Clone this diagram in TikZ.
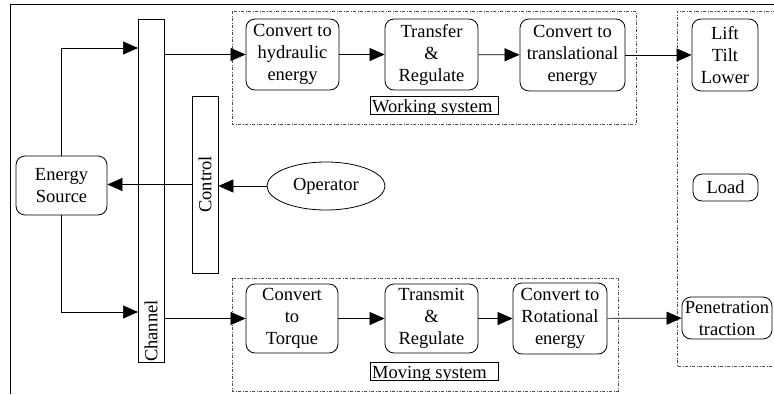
\documentclass[tikz,border=0pt]{standalone}
\usepackage{fontspec}
\setmainfont{Liberation Serif}
\usetikzlibrary{arrows.meta,shapes.geometric}

\begin{document}
\begin{tikzpicture}[x=1pt,y=-1pt,
  txt/.style={font=\fontsize{18.5}{22}\selectfont},
  blk/.style={txt, draw, fill=white, rounded corners=9pt, line width=0.8pt,
    align=center, inner sep=0pt},
  bar/.style={draw, fill=white, line width=0.8pt, inner sep=0pt},
  grp/.style={draw=black!70, line width=0.6pt,
    dash pattern=on 3pt off 1.5pt on 1pt off 1.5pt},
  arr/.style={line width=0.7pt, -{Triangle[length=15pt,width=13pt]}},
  lbl/.style={draw, line width=0.7pt}]
\useasboundingbox (0,0) rectangle (774,394);

% outer frame
\draw[line width=0.8pt] (774,4) -- (10,4) -- (10,394);

% subsystem groups
\draw[grp] (232,11) rectangle (636,124);
\draw[grp] (232,278) rectangle (618,391);
\draw[grp] (790,11) -- (677,11) -- (677,366) -- (790,366);

% channel and control bars
\node[bar, minimum width=26pt, minimum height=343pt] (channel) at (151,190.5) {};
\node[txt, rotate=90, anchor=west, inner sep=0pt] at (151,362) {Channel};
\node[bar, minimum width=26pt, minimum height=177pt] (ctrl) at (205,184.5) {};
\node[txt, rotate=90, inner sep=0pt] at (205,184.5) {Control};

% energy source and operator
\node[blk, minimum width=91pt, minimum height=59pt] (es) at (61.5,185.5) {Energy\\Source};
\node[txt, draw, ellipse, line width=0.8pt, minimum width=118pt, minimum height=48pt,
  inner sep=0pt] (op) at (326,186) {Operator};

% working system
\node[blk, minimum width=93pt, minimum height=71pt] (hyd) at (292.5,54.5) {Convert to\\hydraulic\\energy};
\node[blk, minimum width=93pt, minimum height=71pt] (tr) at (431.5,54.5) {Transfer\\\&\\Regulate};
\node[blk, minimum width=105pt, minimum height=72pt] (trans) at (572.5,55) {Convert to\\translational\\energy};

% moving system
\node[blk, minimum width=92pt, minimum height=69pt] (torque) at (292,318.5) {Convert\\to\\Torque};
\node[blk, minimum width=93pt, minimum height=69pt] (tm) at (431.5,318.5) {Transmit\\\&\\Regulate};
\node[blk, minimum width=94pt, minimum height=71pt] (rot) at (560,318.5) {Convert to\\Rotational\\energy};

% load side
\node[blk, minimum width=66pt, minimum height=72pt] (lift) at (725,55) {Lift\\Tilt\\Lower};
\node[blk, minimum width=65pt, minimum height=27pt] (load) at (725.5,187.5) {Load};
\node[blk, minimum width=90pt, minimum height=42pt] (pen) at (727,318) {Penetration\\traction};

% group labels (text clipped by its frame)
\begin{scope}
  \clip (370,96) rectangle (498,114);
  \node[txt, anchor=base west, inner sep=0pt] (wlab) at (372,112.5) {Working system};
\end{scope}
\draw[lbl] (370,96) rectangle (498,114);
\begin{scope}
  \clip (370,362) rectangle (498,380);
  \node[txt, anchor=base west, inner sep=0pt] (mlab) at (372,378.5) {Moving system};
\end{scope}
\draw[lbl] (370,362) rectangle (498,380);

% connectors
\coordinate (chtop) at (138,48);
\coordinate (chbot) at (138,312);
\draw[arr] (es.north) |- (chtop);
\draw[arr] (es.south) |- (chbot);
\draw[arr] (ctrl.west) -- (es.east |- ctrl.west);
\draw[arr] (op.west) -- (ctrl.east |- op.west);
\draw[arr] (channel.east |- hyd) -- (hyd);
\draw[arr] (channel.east |- torque) -- (torque);
\draw[arr] (hyd) -- (tr);
\draw[arr] (tr) -- (trans);
\draw[arr] (trans) -- (lift);
\draw[arr] (torque) -- (tm);
\draw[arr] (tm) -- (rot);
\draw[arr] (rot) -- (pen);
\end{tikzpicture}
\end{document}
